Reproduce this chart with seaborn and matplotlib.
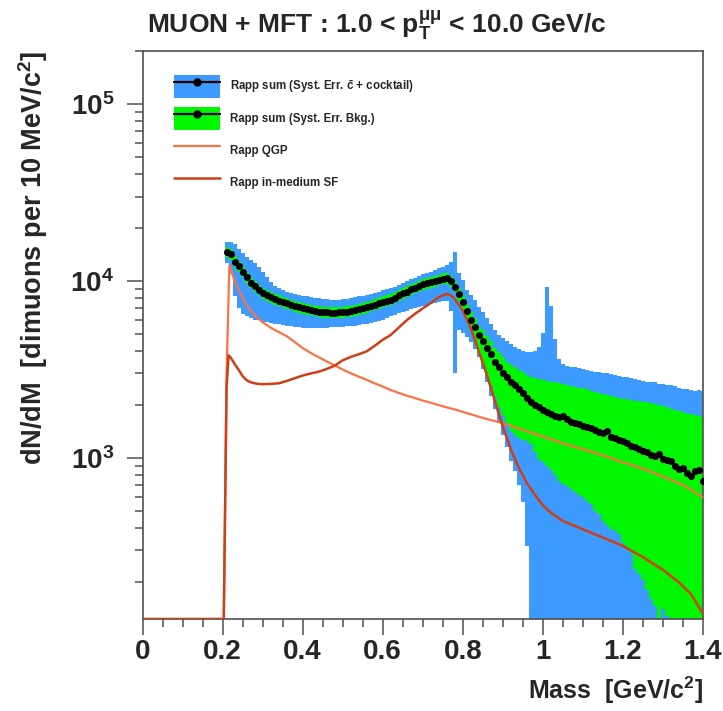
import matplotlib

matplotlib.use("Agg")
import matplotlib.pyplot as plt
import numpy as np
import pandas as pd
import seaborn as sns
from matplotlib.lines import Line2D
from matplotlib.patches import Patch
from matplotlib.ticker import FixedLocator, FuncFormatter, LogLocator, MultipleLocator, NullFormatter

# ---- data ----
# bin centres, 10 MeV bins from 0.21 to 1.40 GeV/c^2
mass = np.round(np.arange(21, 141) * 0.01, 2)

rapp_sum = [
    14600, 14200, 12850, 12100, 11300, 10500, 9800, 9350, 8900, 8550,
    8300, 8100, 7900, 7750, 7620, 7500, 7350, 7200, 7080, 7000,
    6930, 6860, 6790, 6720, 6680, 6650, 6620, 6630, 6650, 6680,
    6710, 6760, 6830, 6920, 7020, 7130, 7240, 7350, 7500, 7650,
    7750, 7850, 8050, 8300, 8500, 8700, 8950, 9150, 9350, 9550,
    9740, 9870, 10000, 10150, 10300, 10400, 9950, 9300, 8400, 7650,
    6750, 6050, 5500, 4950, 4550, 4200, 3850, 3500, 3250, 3030,
    2860, 2700, 2580, 2440, 2320, 2190, 2080, 1990, 1930, 1870,
    1820, 1780, 1720, 1700, 1725, 1650, 1600, 1580, 1545, 1520,
    1495, 1470, 1445, 1400, 1385, 1420, 1310, 1290, 1265, 1245,
    1215, 1175, 1150, 1125, 1100, 1080, 1045, 1030, 1050, 985,
    975, 955, 905, 865, 880, 820, 790, 840, 860, 745,
]

# syst. err. ccbar + cocktail (blue band)
cc_hi = [
    16600, 16600, 16200, 15200, 14300, 13600, 13200, 12700, 12000, 11200,
    10500, 9900, 9400, 9150, 8900, 8700, 8550, 8450, 8350, 8250,
    8180, 8100, 8050, 8000, 7950, 7900, 7850, 7820, 7850, 7900,
    7950, 8020, 8100, 8180, 8270, 8350, 8450, 8580, 8700, 8850,
    9000, 9150, 9300, 9500, 9700, 9950, 10200, 10400, 10650, 10900,
    11100, 11300, 11550, 11800, 12050, 12300, 12800, 14600, 11100, 10100,
    8900, 8300, 7800, 7100, 6700, 6200, 5700, 5300, 4950, 4750,
    4550, 4400, 4250, 4100, 4000, 3950, 3980, 4000, 4250, 5100,
    9300, 7200, 4700, 3600, 3400, 3300, 3280, 3250, 3230, 3200,
    3150, 3100, 3070, 3050, 3030, 3000, 2980, 2950, 2920, 2880,
    2860, 2840, 2800, 2760, 2720, 2700, 2690, 2670, 2630, 2600,
    2590, 2570, 2550, 2500, 2460, 2440, 2420, 2400, 2430, 2380,
]
cc_lo = [
    12600, 11000, 8200, 7000, 6500, 6300, 6150, 6050, 5980, 5900,
    5840, 5780, 5720, 5680, 5640, 5600, 5560, 5520, 5480, 5440,
    5430, 5420, 5420, 5420, 5430, 5440, 5460, 5480, 5500, 5510,
    5530, 5560, 5600, 5640, 5680, 5730, 5790, 5850, 5930, 6020,
    6150, 6300, 6450, 6600, 6700, 6800, 6950, 7050, 7150, 7250,
    7350, 7450, 7550, 7640, 7700, 7700, 6800, 3000, 5300, 5100,
    4800, 4500, 4100, 3700, 3200, 2700, 2250, 1900, 1600, 1350,
    1150, 960, 840, 700, 560, 320, 0, 0, 0, 0,
    0, 0, 0, 0, 0, 0, 0, 0, 0, 0,
    0, 0, 0, 0, 0, 0, 0, 0, 0, 0,
    0, 0, 0, 0, 0, 0, 0, 0, 0, 0,
    0, 0, 0, 0, 0, 0, 0, 0, 0, 0,
]

# syst. err. background (green band)
bkg_hi = [
    15600, 15200, 13750, 12950, 12100, 11250, 10500, 10000, 9500, 9150,
    8900, 8650, 8450, 8300, 8150, 8000, 7850, 7700, 7580, 7500,
    7400, 7340, 7260, 7190, 7150, 7120, 7080, 7090, 7120, 7150,
    7180, 7230, 7310, 7400, 7510, 7630, 7750, 7860, 8030, 8190,
    8290, 8400, 8610, 8880, 9100, 9310, 9580, 9790, 10000, 10220,
    10420, 10560, 10700, 10860, 11020, 11130, 10650, 9950, 9100, 8300,
    7400, 6700, 6150, 5600, 5250, 4900, 4550, 4200, 3950, 3700,
    3500, 3350, 3250, 3120, 3050, 2950, 2870, 2820, 2780, 2750,
    2720, 2700, 2680, 2650, 2620, 2580, 2560, 2530, 2500, 2470,
    2440, 2400, 2370, 2340, 2310, 2280, 2250, 2220, 2190, 2160,
    2140, 2120, 2100, 2090, 2080, 2060, 2040, 2020, 2000, 1970,
    1940, 1900, 1860, 1840, 1820, 1780, 1760, 1740, 1720, 1700,
]
bkg_lo = [
    13600, 13200, 11950, 11250, 10500, 9750, 9100, 8700, 8300, 7950,
    7700, 7550, 7350, 7200, 7100, 6980, 6850, 6700, 6600, 6500,
    6450, 6380, 6310, 6250, 6210, 6180, 6160, 6170, 6180, 6210,
    6240, 6290, 6350, 6440, 6530, 6630, 6730, 6840, 6980, 7110,
    7210, 7300, 7490, 7720, 7900, 8090, 8320, 8510, 8700, 8880,
    9060, 9180, 9300, 9440, 9580, 9670, 9250, 8650, 7700, 6900,
    6000, 5300, 4600, 3900, 3400, 2950, 2550, 2200, 1950, 1750,
    1580, 1420, 1350, 1300, 1270, 1240, 1200, 1080, 980, 950,
    900, 860, 800, 740, 710, 690, 670, 640, 620, 600,
    570, 550, 500, 480, 440, 420, 395, 390, 370, 330,
    315, 290, 235, 220, 205, 180, 160, 145, 125, 140,
    128, 0, 0, 0, 0, 0, 0, 0, 0, 0,
]

# Rapp QGP curve
qgp_mass = [
    0.0, 0.203, 0.21, 0.217, 0.225, 0.23, 0.24, 0.25, 0.26, 0.27,
    0.28, 0.29, 0.30, 0.32, 0.34, 0.36, 0.38, 0.40, 0.42, 0.44,
    0.46, 0.48, 0.50, 0.52, 0.54, 0.56, 0.58, 0.60, 0.62, 0.64,
    0.66, 0.68, 0.70, 0.72, 0.74, 0.76, 0.78, 0.80, 0.82, 0.84,
    0.86, 0.88, 0.90, 0.95, 1.00, 1.05, 1.10, 1.15, 1.20, 1.25,
    1.30, 1.35, 1.40,
]
qgp_val = [
    0, 0, 3000, 12200, 10800, 10000, 8900, 8000, 7300, 6800,
    6400, 6100, 5850, 5450, 5150, 4880, 4520, 4180, 3920, 3710,
    3510, 3330, 3160, 3010, 2880, 2760, 2640, 2530, 2420, 2330,
    2250, 2180, 2110, 2050, 1990, 1930, 1880, 1820, 1765, 1710,
    1660, 1615, 1570, 1440, 1320, 1210, 1120, 1035, 945, 870,
    784, 705, 600,
]

# Rapp in-medium spectral function curve
sf_mass = [
    0.0, 0.203, 0.21, 0.215, 0.22, 0.23, 0.24, 0.25, 0.26, 0.27,
    0.28, 0.29, 0.30, 0.32, 0.34, 0.36, 0.38, 0.40, 0.42, 0.44,
    0.46, 0.48, 0.50, 0.52, 0.54, 0.56, 0.58, 0.60, 0.62, 0.64,
    0.66, 0.68, 0.70, 0.72, 0.74, 0.76, 0.77, 0.78, 0.80, 0.82,
    0.84, 0.86, 0.88, 0.90, 0.92, 0.94, 0.96, 0.98, 1.00, 1.02,
    1.05, 1.10, 1.15, 1.20, 1.25, 1.30, 1.34, 1.37, 1.40,
]
sf_val = [
    0, 0, 2500, 3800, 3700, 3400, 3150, 2900, 2750, 2680,
    2640, 2620, 2610, 2620, 2640, 2720, 2820, 2920, 3000, 3070,
    3180, 3320, 3560, 3720, 3850, 4000, 4300, 4650, 4950, 5450,
    6000, 6500, 7000, 7500, 8100, 8450, 8300, 7900, 6800, 5400,
    4000, 2950, 2100, 1500, 1120, 880, 720, 620, 540, 490,
    440, 395, 355, 318, 275, 233, 198, 170, 132,
]

x_ticks = [0, 0.2, 0.4, 0.6, 0.8, 1.0, 1.2, 1.4]
labels = [
    r"Rapp sum (Syst. Err. $\bar{\mathrm{c}}$ + cocktail)",
    "Rapp sum (Syst. Err. Bkg.)",
    "Rapp QGP",
    "Rapp in-medium SF",
]

BLUE = "#3d9bff"
GREEN = "#00f700"
QGP_C = "#fb7344"
SF_C = "#cf3f16"
FRAME = "#505050"
YMIN, YMAX = 123, 2.0e5
BIN_W = 0.01

# ---- style ----
sns.set_style("ticks")
plt.rcParams["font.family"] = ["Liberation Sans", "DejaVu Sans"]
plt.rcParams["font.weight"] = "bold"
plt.rcParams["mathtext.fontset"] = "custom"
plt.rcParams["mathtext.rm"] = "Liberation Sans:bold"
plt.rcParams["mathtext.bf"] = "Liberation Sans:bold"
plt.rcParams["mathtext.it"] = "Liberation Sans:bold:italic"

df = pd.DataFrame(
    {"mass": mass, "sum": rapp_sum, "cc_hi": cc_hi, "cc_lo": cc_lo, "bkg_hi": bkg_hi, "bkg_lo": bkg_lo}
)
# ROOT draws anything below the frame at the frame floor
df["cc_lo_d"] = df["cc_lo"].clip(lower=1.0)
df["bkg_lo_d"] = df["bkg_lo"].clip(lower=1.0)
qgp = pd.DataFrame({"mass": qgp_mass, "val": np.clip(qgp_val, YMIN, None)})
sf = pd.DataFrame({"mass": sf_mass, "val": np.clip(sf_val, YMIN, None)})

fig = plt.figure(figsize=(7.23, 7.11), dpi=100)
ax = fig.add_axes([0.1971, 0.1294, 0.7752, 0.7993])
ax.set_yscale("log")

ax.bar(df["mass"], df["cc_hi"] - df["cc_lo_d"], bottom=df["cc_lo_d"], width=BIN_W,
       color=BLUE, linewidth=0, zorder=1)
ax.bar(df["mass"], df["bkg_hi"] - df["bkg_lo_d"], bottom=df["bkg_lo_d"], width=BIN_W,
       color=GREEN, linewidth=0, zorder=2)
sns.lineplot(data=qgp, x="mass", y="val", color=QGP_C, lw=1.6, sort=False, estimator=None, ax=ax, zorder=3)
sns.lineplot(data=sf, x="mass", y="val", color=SF_C, lw=1.8, sort=False, estimator=None, ax=ax, zorder=4)
sns.scatterplot(data=df, x="mass", y="sum", color="black", s=26, linewidth=0, ax=ax, zorder=5)

ax.set_xlim(0, 1.4)
ax.set_ylim(YMIN, YMAX)

ax.xaxis.set_major_locator(FixedLocator(x_ticks))
ax.xaxis.set_minor_locator(MultipleLocator(0.05))
ax.xaxis.set_major_formatter(FuncFormatter(lambda v, _: f"{v:g}"))
ax.yaxis.set_major_locator(LogLocator(base=10))
ax.yaxis.set_minor_locator(LogLocator(base=10, subs=np.arange(2, 10)))
ax.yaxis.set_major_formatter(FuncFormatter(lambda v, _: r"$10^{%d}$" % round(np.log10(v))))
ax.yaxis.set_minor_formatter(NullFormatter())

for s in ax.spines.values():
    s.set_color(FRAME)
    s.set_linewidth(1.2)
ax.tick_params(axis="both", which="both", direction="out", color=FRAME, width=1.1, labelsize=20)
ax.tick_params(axis="both", which="major", length=11.5)
ax.tick_params(axis="both", which="minor", length=6)
ax.tick_params(axis="y", which="major", pad=9)
ax.tick_params(axis="x", which="major", pad=3)

ax.set_xlabel(r"Mass  [GeV/c$^{2}$]", fontsize=18, fontweight="bold", ha="right")
ax.xaxis.set_label_coords(1.0, -0.098)
ax.set_ylabel(r"dN/dM  [dimuons per 10 MeV/c$^{2}$]", fontsize=19.5, fontweight="bold", ha="right")
ax.yaxis.set_label_coords(-0.165, 1.0)

fig.text(147 / 723, 1 - 25 / 711, r"MUON + MFT : 1.0 < p$_{\mathrm{T}}^{\mathrm{μμ}}$ < 10.0 GeV/c",
         fontsize=19, fontweight="bold", ha="left", va="center")

handles = [
    (Patch(facecolor=BLUE, edgecolor="none"), Line2D([], [], color="black", lw=1.6, marker="o", ms=5)),
    (Patch(facecolor=GREEN, edgecolor="none"), Line2D([], [], color="black", lw=1.6, marker="o", ms=5)),
    Line2D([], [], color=QGP_C, lw=1.6),
    Line2D([], [], color=SF_C, lw=1.8),
]
ax.legend(handles, labels, loc="upper left", bbox_to_anchor=(0.048, 0.966), frameon=False,
          prop={"size": 8.3, "weight": "bold"}, handlelength=4.0, handleheight=2.7,
          labelspacing=0.78, handletextpad=0.85, borderaxespad=0)

fig.savefig("out.png", dpi=100, facecolor="white")
